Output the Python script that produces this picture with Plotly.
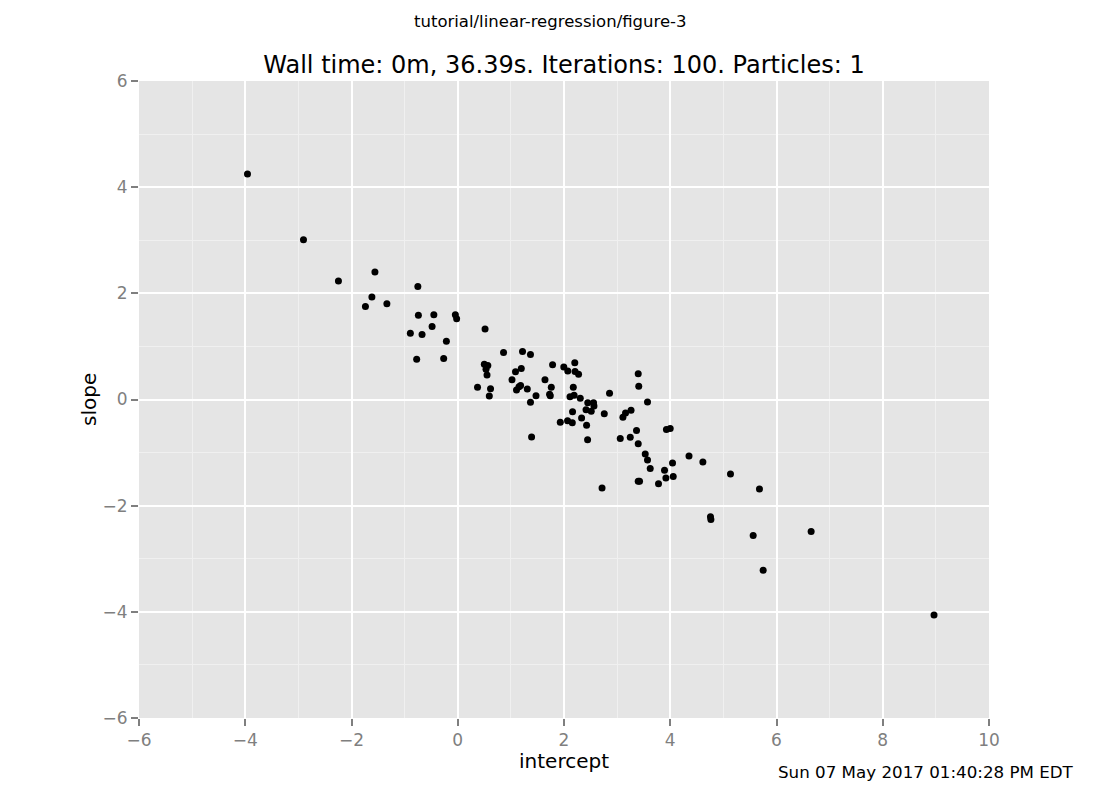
import plotly.graph_objects as go

intercept = [
    -3.958, -2.904, -2.246, -1.559, -1.616, -1.738, -1.334, -0.751, -0.741, -0.450,
    -0.892, -0.672, -0.483, -0.045, -0.021, -0.214, -0.773, -0.265, 0.514, 0.862,
    1.219, 1.369, 0.500, 0.566, 0.532, 0.551, 1.087, 1.196, 1.021, 0.372,
    0.617, 0.594, 1.106, 1.153, 1.183, 1.309, 1.473, 1.369, 1.390, 1.785,
    1.996, 2.071, 2.203, 2.208, 2.274, 1.642, 1.761, 1.729, 1.742, 2.175,
    2.113, 2.190, 2.306, 2.447, 2.556, 2.564, 2.415, 2.513, 2.161, 2.857,
    2.758, 2.331, 2.425, 1.930, 2.067, 2.156, 2.444, 3.397, 3.407, 3.572,
    3.109, 3.158, 3.262, 3.365, 3.059, 3.247, 3.397, 3.529, 3.572, 3.623,
    3.928, 3.999, 3.892, 4.043, 4.056, 3.918, 3.397, 3.422, 3.779, 2.716,
    4.353, 4.614, 5.134, 5.679, 4.757, 4.765, 5.561, 6.652, 5.749, 8.965,
]
slope = [
    4.250, 3.011, 2.233, 2.401, 1.932, 1.754, 1.805, 2.129, 1.585, 1.595,
    1.248, 1.223, 1.373, 1.598, 1.523, 1.098, 0.760, 0.773, 1.328, 0.887,
    0.904, 0.850, 0.666, 0.642, 0.572, 0.463, 0.522, 0.582, 0.370, 0.229,
    0.203, 0.066, 0.178, 0.240, 0.263, 0.197, 0.071, -0.051, -0.707, 0.653,
    0.614, 0.538, 0.690, 0.529, 0.475, 0.371, 0.229, 0.098, 0.071, 0.229,
    0.051, 0.081, 0.023, -0.060, -0.060, -0.122, -0.191, -0.221, -0.229, 0.116,
    -0.268, -0.347, -0.484, -0.428, -0.400, -0.437, -0.760, 0.484, 0.248, -0.047,
    -0.334, -0.253, -0.201, -0.582, -0.737, -0.713, -0.835, -1.028, -1.139, -1.298,
    -0.567, -0.548, -1.332, -1.197, -1.450, -1.477, -1.538, -1.542, -1.585, -1.666,
    -1.064, -1.178, -1.403, -1.685, -2.210, -2.261, -2.561, -2.486, -3.218, -4.062,
]

x_ticks = [-6, -4, -2, 0, 2, 4, 6, 8, 10]
y_ticks = [-6, -4, -2, 0, 2, 4, 6]
x_tick_text = ["\u22126", "\u22124", "\u22122", "0", "2", "4", "6", "8", "10"]
y_tick_text = ["\u22126", "\u22124", "\u22122", "0", "2", "4", "6"]

FONT = "DejaVu Sans"
W, H = 1100, 800
ML, MR, MT, MB = 139, 111, 81, 82
PW = W - ML - MR
PH = H - MT - MB

fig = go.Figure()
fig.add_trace(go.Scatter(
    x=intercept, y=slope, mode="markers",
    marker=dict(color="black", size=7, line=dict(width=0)),
    showlegend=False,
))

axis_common = dict(
    showgrid=True, gridcolor="white", gridwidth=2,
    minor=dict(showgrid=True, gridcolor="#F0F0F0", gridwidth=1, dtick=1),
    zeroline=False, showline=False,
    ticks="outside", ticklen=7, tickwidth=2, tickcolor="#7F7F7F",
    tickfont=dict(family=FONT, size=17, color="#7F7F7F"),
)

fig.update_layout(
    width=W, height=H,
    margin=dict(l=ML, r=MR, t=MT, b=MB),
    paper_bgcolor="white", plot_bgcolor="#E5E5E5",
    font=dict(family=FONT, color="black"),
    title=dict(text="Wall time: 0m, 36.39s. Iterations: 100. Particles: 1",
               x=0.5, xref="paper", xanchor="center",
               y=1 - 65 / H, yref="container", yanchor="middle",
               font=dict(family=FONT, size=24, color="black")),
    xaxis=dict(range=[-6, 10], tickmode="array", tickvals=x_ticks, ticktext=x_tick_text,
               **axis_common),
    yaxis=dict(range=[-6, 6], tickmode="array", tickvals=y_ticks, ticktext=y_tick_text,
               **axis_common),
)

# axis titles
fig.add_annotation(text="intercept", xref="paper", yref="paper",
                   x=(564 - ML) / PW, y=(H - MB - 761) / PH,
                   xanchor="center", yanchor="middle", showarrow=False, borderpad=0,
                   font=dict(family=FONT, size=20, color="black"))
fig.add_annotation(text="slope", xref="paper", yref="paper",
                   x=(89 - ML) / PW, y=(H - MB - 400) / PH, textangle=-90,
                   xanchor="center", yanchor="middle", showarrow=False, borderpad=0,
                   font=dict(family=FONT, size=20, color="black"))

fig.add_annotation(text="tutorial/linear-regression/figure-3", xref="paper", yref="paper",
                   x=(550 - ML) / PW, y=(H - MB - 22) / PH,
                   xanchor="center", yanchor="middle", showarrow=False,
                   font=dict(family=FONT, size=16.5, color="black"))
fig.add_annotation(text="Sun 07 May 2017 01:40:28 PM EDT", xref="paper", yref="paper",
                   x=(1076 - ML) / PW, y=(H - MB - 772) / PH,
                   xanchor="right", yanchor="middle", showarrow=False,
                   font=dict(family=FONT, size=16.7, color="black"))

fig.write_html("out.html")
